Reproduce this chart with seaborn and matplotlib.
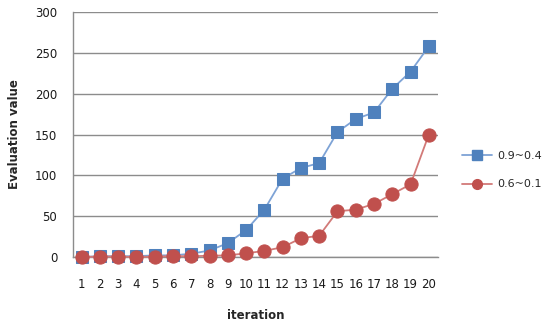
import matplotlib
matplotlib.use("Agg")
import matplotlib.pyplot as plt
import seaborn as sns
import pandas as pd
from matplotlib.lines import Line2D

iterations = list(range(1, 21))
series_a = [0, 1, 1, 1, 2, 2, 4, 8, 17, 33, 58, 96, 109, 115, 153, 169, 177, 206, 227, 258]
series_b = [0, 0.5, 0.5, 0, 0.5, 1, 1, 1.5, 2, 4.5, 7.5, 12, 23, 26, 56, 58, 65, 77, 89, 150]
labels = ["0.9~0.4", "0.6~0.1"]

df = pd.DataFrame({
    "iteration": iterations * 2,
    "value": series_a + series_b,
    "series": [labels[0]] * 20 + [labels[1]] * 20,
})

sns.set_theme(style="white")
plt.rcParams["font.family"] = ["DejaVu Sans"]

fig = plt.figure(figsize=(5.48, 3.25), dpi=100)
ax = fig.add_axes([72.5 / 548, 1 - 257 / 325, (438 - 72.5) / 548, (257 - 12) / 325])

line_colors = {labels[0]: "#7ea3d6", labels[1]: "#d27a78"}
marker_colors = {labels[0]: "#4f81bd", labels[1]: "#c0504d"}
markers = {labels[0]: "s", labels[1]: "o"}

for name in labels:
    sub = df[df["series"] == name]
    sns.lineplot(data=sub, x="iteration", y="value", ax=ax, color=line_colors[name],
                 linewidth=1.3, marker=markers[name], markersize=9.5 if name == labels[1] else 9,
                 markerfacecolor=marker_colors[name], markeredgecolor=marker_colors[name],
                 clip_on=False, zorder=3, legend=False)

ax.set_xlim(0.5, 20.5)
ax.set_ylim(0, 300)
ax.set_yticks(range(0, 301, 50))
ax.set_xticks(iterations)
ax.set_xticks([i + 0.5 for i in range(0, 21)], minor=True)
ax.tick_params(axis="x", which="major", length=0, pad=15, labelsize=8.5, labelcolor="#1a1a1a")
ax.tick_params(axis="x", which="minor", length=5, width=1, color="#888888", direction="out")
ax.tick_params(axis="y", which="major", length=5, width=1, color="#888888", direction="out",
               pad=6, labelsize=8.5, labelcolor="#1a1a1a")

ax.grid(axis="y", color="#8c8c8c", linewidth=1)
ax.set_axisbelow(True)
for side in ["top", "right"]:
    ax.spines[side].set_visible(False)
for side in ["left", "bottom"]:
    ax.spines[side].set_color("#8c8c8c")
    ax.spines[side].set_linewidth(1)

ax.set_xlabel("iteration", fontsize=8.5, fontweight="bold", labelpad=13)
ax.set_ylabel("Evaluation value", fontsize=8.5, fontweight="bold", labelpad=10)

handles = [
    Line2D([], [], color=line_colors[n], linewidth=1.3, marker=markers[n], markersize=7,
           markerfacecolor=marker_colors[n], markeredgecolor=marker_colors[n])
    for n in labels
]
fig.legend(handles, labels, loc="center left", bbox_to_anchor=(462 / 548, 1 - 170 / 325),
           frameon=False, fontsize=8, handlelength=2.7, handletextpad=0.45, labelspacing=1.7,
           borderpad=0, borderaxespad=0)

fig.savefig("out.png", dpi=100)
